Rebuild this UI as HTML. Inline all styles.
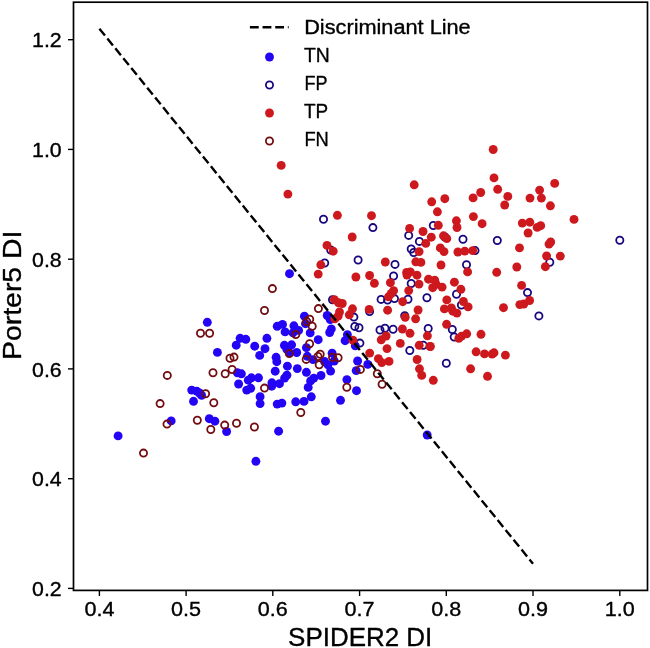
<!DOCTYPE html>
<html><head><meta charset="utf-8"><title>Scatter</title>
<style>
html,body{margin:0;padding:0;background:#fff;}
body{width:650px;height:648px;overflow:hidden;}
svg{display:block;will-change:transform;}
text{font-family:"Liberation Sans",sans-serif;fill:#000;stroke:#000;stroke-width:0.35px;stroke-linejoin:round;}
.tk{font-size:20px;}
.lg{font-size:20px;}
.ax{font-size:25px;}
</style></head><body>
<svg width="650" height="648" viewBox="0 0 650 648">
<rect x="0" y="0" width="650" height="648" fill="#ffffff"/>

<g id="tn">
<circle cx="118.1" cy="435.9" r="4.45" fill="#2404f5"/>
<circle cx="171.2" cy="420.9" r="4.45" fill="#2404f5"/>
<circle cx="207.3" cy="322.3" r="4.45" fill="#2404f5"/>
<circle cx="240.1" cy="338.3" r="4.45" fill="#2404f5"/>
<circle cx="245.8" cy="339.3" r="4.45" fill="#2404f5"/>
<circle cx="236.2" cy="345.2" r="4.45" fill="#2404f5"/>
<circle cx="254.7" cy="346.2" r="4.45" fill="#2404f5"/>
<circle cx="217.4" cy="352.4" r="4.45" fill="#2404f5"/>
<circle cx="259.7" cy="355.4" r="4.45" fill="#2404f5"/>
<circle cx="237.4" cy="372.8" r="4.45" fill="#2404f5"/>
<circle cx="241.4" cy="373.8" r="4.45" fill="#2404f5"/>
<circle cx="251.4" cy="377.8" r="4.45" fill="#2404f5"/>
<circle cx="248.3" cy="380.2" r="4.45" fill="#2404f5"/>
<circle cx="258.5" cy="377.8" r="4.45" fill="#2404f5"/>
<circle cx="238.6" cy="384.0" r="4.45" fill="#2404f5"/>
<circle cx="250.7" cy="388.3" r="4.45" fill="#2404f5"/>
<circle cx="246.7" cy="390.1" r="4.45" fill="#2404f5"/>
<circle cx="191.7" cy="390.1" r="4.45" fill="#2404f5"/>
<circle cx="196.7" cy="391.2" r="4.45" fill="#2404f5"/>
<circle cx="199.5" cy="393.0" r="4.45" fill="#2404f5"/>
<circle cx="201.6" cy="395.4" r="4.45" fill="#2404f5"/>
<circle cx="193.5" cy="401.3" r="4.45" fill="#2404f5"/>
<circle cx="209.3" cy="418.7" r="4.45" fill="#2404f5"/>
<circle cx="214.9" cy="421.2" r="4.45" fill="#2404f5"/>
<circle cx="226.6" cy="431.5" r="4.45" fill="#2404f5"/>
<circle cx="255.9" cy="461.3" r="4.45" fill="#2404f5"/>
<circle cx="289.5" cy="273.7" r="4.45" fill="#2404f5"/>
<circle cx="304.4" cy="316.2" r="4.45" fill="#2404f5"/>
<circle cx="305.5" cy="323.7" r="4.45" fill="#2404f5"/>
<circle cx="277.2" cy="326.3" r="4.45" fill="#2404f5"/>
<circle cx="282.5" cy="324.4" r="4.45" fill="#2404f5"/>
<circle cx="285.1" cy="331.9" r="4.45" fill="#2404f5"/>
<circle cx="293.9" cy="325.8" r="4.45" fill="#2404f5"/>
<circle cx="298.6" cy="330.4" r="4.45" fill="#2404f5"/>
<circle cx="293.0" cy="332.8" r="4.45" fill="#2404f5"/>
<circle cx="310.2" cy="332.9" r="4.45" fill="#2404f5"/>
<circle cx="266.9" cy="338.3" r="4.45" fill="#2404f5"/>
<circle cx="318.2" cy="339.7" r="4.45" fill="#2404f5"/>
<circle cx="265.0" cy="348.7" r="4.45" fill="#2404f5"/>
<circle cx="284.4" cy="345.3" r="4.45" fill="#2404f5"/>
<circle cx="291.6" cy="344.8" r="4.45" fill="#2404f5"/>
<circle cx="286.9" cy="349.4" r="4.45" fill="#2404f5"/>
<circle cx="289.5" cy="352.8" r="4.45" fill="#2404f5"/>
<circle cx="296.7" cy="352.5" r="4.45" fill="#2404f5"/>
<circle cx="306.4" cy="347.6" r="4.45" fill="#2404f5"/>
<circle cx="276.1" cy="357.3" r="4.45" fill="#2404f5"/>
<circle cx="276.8" cy="361.7" r="4.45" fill="#2404f5"/>
<circle cx="307.3" cy="356.3" r="4.45" fill="#2404f5"/>
<circle cx="313.0" cy="359.6" r="4.45" fill="#2404f5"/>
<circle cx="287.4" cy="366.2" r="4.45" fill="#2404f5"/>
<circle cx="297.3" cy="368.6" r="4.45" fill="#2404f5"/>
<circle cx="306.4" cy="372.3" r="4.45" fill="#2404f5"/>
<circle cx="275.2" cy="371.2" r="4.45" fill="#2404f5"/>
<circle cx="286.9" cy="375.2" r="4.45" fill="#2404f5"/>
<circle cx="284.6" cy="378.1" r="4.45" fill="#2404f5"/>
<circle cx="271.9" cy="382.8" r="4.45" fill="#2404f5"/>
<circle cx="279.5" cy="383.7" r="4.45" fill="#2404f5"/>
<circle cx="271.7" cy="386.2" r="4.45" fill="#2404f5"/>
<circle cx="313.8" cy="378.1" r="4.45" fill="#2404f5"/>
<circle cx="310.6" cy="380.9" r="4.45" fill="#2404f5"/>
<circle cx="308.2" cy="387.4" r="4.45" fill="#2404f5"/>
<circle cx="260.1" cy="396.7" r="4.45" fill="#2404f5"/>
<circle cx="260.1" cy="403.6" r="4.45" fill="#2404f5"/>
<circle cx="277.2" cy="404.1" r="4.45" fill="#2404f5"/>
<circle cx="281.9" cy="403.1" r="4.45" fill="#2404f5"/>
<circle cx="295.7" cy="401.8" r="4.45" fill="#2404f5"/>
<circle cx="304.0" cy="401.4" r="4.45" fill="#2404f5"/>
<circle cx="311.3" cy="396.8" r="4.45" fill="#2404f5"/>
<circle cx="278.6" cy="431.2" r="4.45" fill="#2404f5"/>
<circle cx="327.2" cy="315.5" r="4.45" fill="#2404f5"/>
<circle cx="330.2" cy="319.5" r="4.45" fill="#2404f5"/>
<circle cx="331.3" cy="328.9" r="4.45" fill="#2404f5"/>
<circle cx="329.7" cy="332.5" r="4.45" fill="#2404f5"/>
<circle cx="347.4" cy="334.7" r="4.45" fill="#2404f5"/>
<circle cx="345.1" cy="340.7" r="4.45" fill="#2404f5"/>
<circle cx="355.3" cy="345.8" r="4.45" fill="#2404f5"/>
<circle cx="332.1" cy="353.2" r="4.45" fill="#2404f5"/>
<circle cx="324.5" cy="361.5" r="4.45" fill="#2404f5"/>
<circle cx="334.2" cy="361.0" r="4.45" fill="#2404f5"/>
<circle cx="357.6" cy="361.0" r="4.45" fill="#2404f5"/>
<circle cx="328.0" cy="364.8" r="4.45" fill="#2404f5"/>
<circle cx="330.6" cy="371.1" r="4.45" fill="#2404f5"/>
<circle cx="321.0" cy="375.5" r="4.45" fill="#2404f5"/>
<circle cx="367.8" cy="364.4" r="4.45" fill="#2404f5"/>
<circle cx="356.2" cy="370.6" r="4.45" fill="#2404f5"/>
<circle cx="346.9" cy="379.6" r="4.45" fill="#2404f5"/>
<circle cx="356.5" cy="390.7" r="4.45" fill="#2404f5"/>
<circle cx="340.5" cy="400.3" r="4.45" fill="#2404f5"/>
<circle cx="325.5" cy="421.2" r="4.45" fill="#2404f5"/>
<circle cx="427.2" cy="435.0" r="4.45" fill="#2404f5"/>
</g><g id="fp">
<circle cx="323.5" cy="219.2" r="3.6" fill="#fff" fill-opacity="0" stroke="#17067f" stroke-width="1.8"/>
<circle cx="372.9" cy="227.6" r="3.6" fill="#fff" fill-opacity="0" stroke="#17067f" stroke-width="1.8"/>
<circle cx="330.7" cy="250.0" r="3.6" fill="#fff" fill-opacity="0" stroke="#17067f" stroke-width="1.8"/>
<circle cx="358.1" cy="260.0" r="3.6" fill="#fff" fill-opacity="0" stroke="#17067f" stroke-width="1.8"/>
<circle cx="324.7" cy="263.0" r="3.6" fill="#fff" fill-opacity="0" stroke="#17067f" stroke-width="1.8"/>
<circle cx="332.5" cy="299.8" r="3.6" fill="#fff" fill-opacity="0" stroke="#17067f" stroke-width="1.8"/>
<circle cx="369.6" cy="311.6" r="3.6" fill="#fff" fill-opacity="0" stroke="#17067f" stroke-width="1.8"/>
<circle cx="353.9" cy="317.1" r="3.6" fill="#fff" fill-opacity="0" stroke="#17067f" stroke-width="1.8"/>
<circle cx="354.8" cy="326.4" r="3.6" fill="#fff" fill-opacity="0" stroke="#17067f" stroke-width="1.8"/>
<circle cx="359.0" cy="327.8" r="3.6" fill="#fff" fill-opacity="0" stroke="#17067f" stroke-width="1.8"/>
<circle cx="359.9" cy="343.1" r="3.6" fill="#fff" fill-opacity="0" stroke="#17067f" stroke-width="1.8"/>
<circle cx="409.8" cy="350.5" r="3.6" fill="#fff" fill-opacity="0" stroke="#17067f" stroke-width="1.8"/>
<circle cx="423.2" cy="345.3" r="3.6" fill="#fff" fill-opacity="0" stroke="#17067f" stroke-width="1.8"/>
<circle cx="446.3" cy="363.3" r="3.6" fill="#fff" fill-opacity="0" stroke="#17067f" stroke-width="1.8"/>
<circle cx="380.0" cy="330.0" r="3.6" fill="#fff" fill-opacity="0" stroke="#17067f" stroke-width="1.8"/>
<circle cx="385.0" cy="328.3" r="3.6" fill="#fff" fill-opacity="0" stroke="#17067f" stroke-width="1.8"/>
<circle cx="393.1" cy="329.2" r="3.6" fill="#fff" fill-opacity="0" stroke="#17067f" stroke-width="1.8"/>
<circle cx="428.2" cy="328.5" r="3.6" fill="#fff" fill-opacity="0" stroke="#17067f" stroke-width="1.8"/>
<circle cx="393.6" cy="276.0" r="3.6" fill="#fff" fill-opacity="0" stroke="#17067f" stroke-width="1.8"/>
<circle cx="411.2" cy="283.5" r="3.6" fill="#fff" fill-opacity="0" stroke="#17067f" stroke-width="1.8"/>
<circle cx="381.1" cy="299.4" r="3.6" fill="#fff" fill-opacity="0" stroke="#17067f" stroke-width="1.8"/>
<circle cx="387.6" cy="300.0" r="3.6" fill="#fff" fill-opacity="0" stroke="#17067f" stroke-width="1.8"/>
<circle cx="394.5" cy="298.6" r="3.6" fill="#fff" fill-opacity="0" stroke="#17067f" stroke-width="1.8"/>
<circle cx="408.0" cy="299.3" r="3.6" fill="#fff" fill-opacity="0" stroke="#17067f" stroke-width="1.8"/>
<circle cx="426.9" cy="297.8" r="3.6" fill="#fff" fill-opacity="0" stroke="#17067f" stroke-width="1.8"/>
<circle cx="404.7" cy="315.7" r="3.6" fill="#fff" fill-opacity="0" stroke="#17067f" stroke-width="1.8"/>
<circle cx="408.7" cy="235.4" r="3.6" fill="#fff" fill-opacity="0" stroke="#17067f" stroke-width="1.8"/>
<circle cx="419.4" cy="241.4" r="3.6" fill="#fff" fill-opacity="0" stroke="#17067f" stroke-width="1.8"/>
<circle cx="411.2" cy="249.0" r="3.6" fill="#fff" fill-opacity="0" stroke="#17067f" stroke-width="1.8"/>
<circle cx="413.7" cy="252.5" r="3.6" fill="#fff" fill-opacity="0" stroke="#17067f" stroke-width="1.8"/>
<circle cx="395.0" cy="264.4" r="3.6" fill="#fff" fill-opacity="0" stroke="#17067f" stroke-width="1.8"/>
<circle cx="433.3" cy="225.5" r="3.6" fill="#fff" fill-opacity="0" stroke="#17067f" stroke-width="1.8"/>
<circle cx="444.9" cy="237.0" r="3.6" fill="#fff" fill-opacity="0" stroke="#17067f" stroke-width="1.8"/>
<circle cx="463.0" cy="239.3" r="3.6" fill="#fff" fill-opacity="0" stroke="#17067f" stroke-width="1.8"/>
<circle cx="475.0" cy="250.6" r="3.6" fill="#fff" fill-opacity="0" stroke="#17067f" stroke-width="1.8"/>
<circle cx="466.5" cy="264.8" r="3.6" fill="#fff" fill-opacity="0" stroke="#17067f" stroke-width="1.8"/>
<circle cx="456.5" cy="294.3" r="3.6" fill="#fff" fill-opacity="0" stroke="#17067f" stroke-width="1.8"/>
<circle cx="461.4" cy="305.0" r="3.6" fill="#fff" fill-opacity="0" stroke="#17067f" stroke-width="1.8"/>
<circle cx="452.3" cy="329.5" r="3.6" fill="#fff" fill-opacity="0" stroke="#17067f" stroke-width="1.8"/>
<circle cx="454.2" cy="337.0" r="3.6" fill="#fff" fill-opacity="0" stroke="#17067f" stroke-width="1.8"/>
<circle cx="497.3" cy="240.5" r="3.6" fill="#fff" fill-opacity="0" stroke="#17067f" stroke-width="1.8"/>
<circle cx="549.8" cy="262.2" r="3.6" fill="#fff" fill-opacity="0" stroke="#17067f" stroke-width="1.8"/>
<circle cx="527.5" cy="292.6" r="3.6" fill="#fff" fill-opacity="0" stroke="#17067f" stroke-width="1.8"/>
<circle cx="538.9" cy="315.9" r="3.6" fill="#fff" fill-opacity="0" stroke="#17067f" stroke-width="1.8"/>
<circle cx="619.8" cy="240.2" r="3.6" fill="#fff" fill-opacity="0" stroke="#17067f" stroke-width="1.8"/>
</g><g id="tp">
<circle cx="281.2" cy="165.4" r="4.45" fill="#cd191e"/>
<circle cx="287.9" cy="194.1" r="4.45" fill="#cd191e"/>
<circle cx="337.4" cy="215.3" r="4.45" fill="#cd191e"/>
<circle cx="371.5" cy="215.7" r="4.45" fill="#cd191e"/>
<circle cx="352.2" cy="237.0" r="4.45" fill="#cd191e"/>
<circle cx="327.0" cy="245.4" r="4.45" fill="#cd191e"/>
<circle cx="333.2" cy="251.2" r="4.45" fill="#cd191e"/>
<circle cx="320.8" cy="264.8" r="4.45" fill="#cd191e"/>
<circle cx="318.2" cy="274.1" r="4.45" fill="#cd191e"/>
<circle cx="355.9" cy="277.0" r="4.45" fill="#cd191e"/>
<circle cx="369.6" cy="275.5" r="4.45" fill="#cd191e"/>
<circle cx="374.4" cy="283.3" r="4.45" fill="#cd191e"/>
<circle cx="334.4" cy="299.7" r="4.45" fill="#cd191e"/>
<circle cx="338.6" cy="302.8" r="4.45" fill="#cd191e"/>
<circle cx="342.3" cy="303.5" r="4.45" fill="#cd191e"/>
<circle cx="352.5" cy="308.8" r="4.45" fill="#cd191e"/>
<circle cx="369.2" cy="309.4" r="4.45" fill="#cd191e"/>
<circle cx="339.5" cy="312.0" r="4.45" fill="#cd191e"/>
<circle cx="338.1" cy="316.2" r="4.45" fill="#cd191e"/>
<circle cx="334.8" cy="318.9" r="4.45" fill="#cd191e"/>
<circle cx="349.3" cy="314.8" r="4.45" fill="#cd191e"/>
<circle cx="353.0" cy="340.3" r="4.45" fill="#cd191e"/>
<circle cx="369.7" cy="353.1" r="4.45" fill="#cd191e"/>
<circle cx="433.3" cy="380.3" r="4.45" fill="#cd191e"/>
<circle cx="421.7" cy="375.4" r="4.45" fill="#cd191e"/>
<circle cx="419.5" cy="368.8" r="4.45" fill="#cd191e"/>
<circle cx="417.1" cy="359.5" r="4.45" fill="#cd191e"/>
<circle cx="387.0" cy="348.6" r="4.45" fill="#cd191e"/>
<circle cx="400.3" cy="343.4" r="4.45" fill="#cd191e"/>
<circle cx="419.2" cy="345.3" r="4.45" fill="#cd191e"/>
<circle cx="378.4" cy="358.6" r="4.45" fill="#cd191e"/>
<circle cx="381.8" cy="362.6" r="4.45" fill="#cd191e"/>
<circle cx="389.0" cy="361.4" r="4.45" fill="#cd191e"/>
<circle cx="381.2" cy="339.8" r="4.45" fill="#cd191e"/>
<circle cx="386.1" cy="336.0" r="4.45" fill="#cd191e"/>
<circle cx="427.4" cy="335.8" r="4.45" fill="#cd191e"/>
<circle cx="410.0" cy="333.3" r="4.45" fill="#cd191e"/>
<circle cx="402.4" cy="329.0" r="4.45" fill="#cd191e"/>
<circle cx="390.4" cy="282.7" r="4.45" fill="#cd191e"/>
<circle cx="419.0" cy="284.1" r="4.45" fill="#cd191e"/>
<circle cx="407.0" cy="275.0" r="4.45" fill="#cd191e"/>
<circle cx="417.0" cy="275.2" r="4.45" fill="#cd191e"/>
<circle cx="428.5" cy="279.2" r="4.45" fill="#cd191e"/>
<circle cx="432.7" cy="287.7" r="4.45" fill="#cd191e"/>
<circle cx="393.6" cy="290.7" r="4.45" fill="#cd191e"/>
<circle cx="391.3" cy="293.5" r="4.45" fill="#cd191e"/>
<circle cx="388.5" cy="296.8" r="4.45" fill="#cd191e"/>
<circle cx="408.7" cy="290.6" r="4.45" fill="#cd191e"/>
<circle cx="402.7" cy="301.7" r="4.45" fill="#cd191e"/>
<circle cx="387.6" cy="310.2" r="4.45" fill="#cd191e"/>
<circle cx="418.1" cy="310.0" r="4.45" fill="#cd191e"/>
<circle cx="405.2" cy="317.3" r="4.45" fill="#cd191e"/>
<circle cx="415.6" cy="318.8" r="4.45" fill="#cd191e"/>
<circle cx="409.6" cy="228.4" r="4.45" fill="#cd191e"/>
<circle cx="423.0" cy="231.5" r="4.45" fill="#cd191e"/>
<circle cx="425.8" cy="243.4" r="4.45" fill="#cd191e"/>
<circle cx="419.1" cy="251.6" r="4.45" fill="#cd191e"/>
<circle cx="385.3" cy="262.0" r="4.45" fill="#cd191e"/>
<circle cx="415.8" cy="261.8" r="4.45" fill="#cd191e"/>
<circle cx="420.9" cy="262.4" r="4.45" fill="#cd191e"/>
<circle cx="406.6" cy="272.4" r="4.45" fill="#cd191e"/>
<circle cx="410.3" cy="271.9" r="4.45" fill="#cd191e"/>
<circle cx="414.2" cy="184.8" r="4.45" fill="#cd191e"/>
<circle cx="431.7" cy="201.8" r="4.45" fill="#cd191e"/>
<circle cx="444.8" cy="198.7" r="4.45" fill="#cd191e"/>
<circle cx="437.4" cy="211.8" r="4.45" fill="#cd191e"/>
<circle cx="473.1" cy="197.9" r="4.45" fill="#cd191e"/>
<circle cx="480.7" cy="192.5" r="4.45" fill="#cd191e"/>
<circle cx="473.4" cy="216.6" r="4.45" fill="#cd191e"/>
<circle cx="482.1" cy="223.7" r="4.45" fill="#cd191e"/>
<circle cx="456.4" cy="220.8" r="4.45" fill="#cd191e"/>
<circle cx="457.0" cy="227.5" r="4.45" fill="#cd191e"/>
<circle cx="438.3" cy="225.3" r="4.45" fill="#cd191e"/>
<circle cx="431.3" cy="237.2" r="4.45" fill="#cd191e"/>
<circle cx="443.5" cy="235.8" r="4.45" fill="#cd191e"/>
<circle cx="446.8" cy="238.6" r="4.45" fill="#cd191e"/>
<circle cx="440.3" cy="247.9" r="4.45" fill="#cd191e"/>
<circle cx="444.0" cy="251.6" r="4.45" fill="#cd191e"/>
<circle cx="457.9" cy="252.0" r="4.45" fill="#cd191e"/>
<circle cx="464.8" cy="251.1" r="4.45" fill="#cd191e"/>
<circle cx="472.7" cy="250.6" r="4.45" fill="#cd191e"/>
<circle cx="441.0" cy="265.0" r="4.45" fill="#cd191e"/>
<circle cx="467.6" cy="271.9" r="4.45" fill="#cd191e"/>
<circle cx="434.7" cy="280.2" r="4.45" fill="#cd191e"/>
<circle cx="436.1" cy="284.4" r="4.45" fill="#cd191e"/>
<circle cx="442.1" cy="287.1" r="4.45" fill="#cd191e"/>
<circle cx="454.4" cy="282.2" r="4.45" fill="#cd191e"/>
<circle cx="460.9" cy="289.3" r="4.45" fill="#cd191e"/>
<circle cx="446.8" cy="299.9" r="4.45" fill="#cd191e"/>
<circle cx="463.4" cy="301.5" r="4.45" fill="#cd191e"/>
<circle cx="468.1" cy="306.9" r="4.45" fill="#cd191e"/>
<circle cx="444.4" cy="308.9" r="4.45" fill="#cd191e"/>
<circle cx="451.4" cy="308.0" r="4.45" fill="#cd191e"/>
<circle cx="452.8" cy="311.2" r="4.45" fill="#cd191e"/>
<circle cx="456.9" cy="313.1" r="4.45" fill="#cd191e"/>
<circle cx="446.6" cy="324.3" r="4.45" fill="#cd191e"/>
<circle cx="458.8" cy="338.4" r="4.45" fill="#cd191e"/>
<circle cx="461.6" cy="336.1" r="4.45" fill="#cd191e"/>
<circle cx="466.7" cy="333.8" r="4.45" fill="#cd191e"/>
<circle cx="481.0" cy="334.3" r="4.45" fill="#cd191e"/>
<circle cx="430.4" cy="346.5" r="4.45" fill="#cd191e"/>
<circle cx="476.1" cy="351.8" r="4.45" fill="#cd191e"/>
<circle cx="484.5" cy="353.9" r="4.45" fill="#cd191e"/>
<circle cx="470.6" cy="368.8" r="4.45" fill="#cd191e"/>
<circle cx="493.2" cy="149.5" r="4.45" fill="#cd191e"/>
<circle cx="494.0" cy="177.9" r="4.45" fill="#cd191e"/>
<circle cx="497.7" cy="189.3" r="4.45" fill="#cd191e"/>
<circle cx="507.8" cy="196.4" r="4.45" fill="#cd191e"/>
<circle cx="504.7" cy="205.0" r="4.45" fill="#cd191e"/>
<circle cx="530.0" cy="198.1" r="4.45" fill="#cd191e"/>
<circle cx="539.6" cy="190.1" r="4.45" fill="#cd191e"/>
<circle cx="541.4" cy="198.1" r="4.45" fill="#cd191e"/>
<circle cx="554.7" cy="183.4" r="4.45" fill="#cd191e"/>
<circle cx="550.4" cy="205.8" r="4.45" fill="#cd191e"/>
<circle cx="522.3" cy="223.1" r="4.45" fill="#cd191e"/>
<circle cx="529.8" cy="222.2" r="4.45" fill="#cd191e"/>
<circle cx="537.2" cy="227.4" r="4.45" fill="#cd191e"/>
<circle cx="540.7" cy="225.7" r="4.45" fill="#cd191e"/>
<circle cx="528.1" cy="233.0" r="4.45" fill="#cd191e"/>
<circle cx="519.5" cy="247.9" r="4.45" fill="#cd191e"/>
<circle cx="550.7" cy="242.0" r="4.45" fill="#cd191e"/>
<circle cx="549.0" cy="244.1" r="4.45" fill="#cd191e"/>
<circle cx="546.6" cy="256.0" r="4.45" fill="#cd191e"/>
<circle cx="560.3" cy="256.1" r="4.45" fill="#cd191e"/>
<circle cx="545.4" cy="266.7" r="4.45" fill="#cd191e"/>
<circle cx="516.8" cy="267.0" r="4.45" fill="#cd191e"/>
<circle cx="496.7" cy="272.3" r="4.45" fill="#cd191e"/>
<circle cx="521.6" cy="285.4" r="4.45" fill="#cd191e"/>
<circle cx="529.6" cy="300.5" r="4.45" fill="#cd191e"/>
<circle cx="523.8" cy="304.0" r="4.45" fill="#cd191e"/>
<circle cx="519.8" cy="304.6" r="4.45" fill="#cd191e"/>
<circle cx="503.5" cy="307.7" r="4.45" fill="#cd191e"/>
<circle cx="492.1" cy="354.1" r="4.45" fill="#cd191e"/>
<circle cx="494.0" cy="352.8" r="4.45" fill="#cd191e"/>
<circle cx="505.4" cy="355.1" r="4.45" fill="#cd191e"/>
<circle cx="487.5" cy="376.3" r="4.45" fill="#cd191e"/>
<circle cx="574.0" cy="219.4" r="4.45" fill="#cd191e"/>
<circle cx="429.9" cy="346.4" r="4.45" fill="#cd191e"/>
</g><g id="fn">
<circle cx="167.3" cy="375.4" r="3.6" fill="#fff" fill-opacity="0" stroke="#730c10" stroke-width="1.8"/>
<circle cx="160.1" cy="403.6" r="3.6" fill="#fff" fill-opacity="0" stroke="#730c10" stroke-width="1.8"/>
<circle cx="167.0" cy="424.1" r="3.6" fill="#fff" fill-opacity="0" stroke="#730c10" stroke-width="1.8"/>
<circle cx="143.5" cy="453.1" r="3.6" fill="#fff" fill-opacity="0" stroke="#730c10" stroke-width="1.8"/>
<circle cx="200.5" cy="333.2" r="3.6" fill="#fff" fill-opacity="0" stroke="#730c10" stroke-width="1.8"/>
<circle cx="209.6" cy="333.2" r="3.6" fill="#fff" fill-opacity="0" stroke="#730c10" stroke-width="1.8"/>
<circle cx="230.0" cy="358.3" r="3.6" fill="#fff" fill-opacity="0" stroke="#730c10" stroke-width="1.8"/>
<circle cx="234.0" cy="357.1" r="3.6" fill="#fff" fill-opacity="0" stroke="#730c10" stroke-width="1.8"/>
<circle cx="232.1" cy="369.5" r="3.6" fill="#fff" fill-opacity="0" stroke="#730c10" stroke-width="1.8"/>
<circle cx="213.0" cy="372.7" r="3.6" fill="#fff" fill-opacity="0" stroke="#730c10" stroke-width="1.8"/>
<circle cx="225.2" cy="373.8" r="3.6" fill="#fff" fill-opacity="0" stroke="#730c10" stroke-width="1.8"/>
<circle cx="205.6" cy="393.8" r="3.6" fill="#fff" fill-opacity="0" stroke="#730c10" stroke-width="1.8"/>
<circle cx="213.8" cy="402.8" r="3.6" fill="#fff" fill-opacity="0" stroke="#730c10" stroke-width="1.8"/>
<circle cx="197.3" cy="420.3" r="3.6" fill="#fff" fill-opacity="0" stroke="#730c10" stroke-width="1.8"/>
<circle cx="224.7" cy="425.1" r="3.6" fill="#fff" fill-opacity="0" stroke="#730c10" stroke-width="1.8"/>
<circle cx="236.5" cy="423.2" r="3.6" fill="#fff" fill-opacity="0" stroke="#730c10" stroke-width="1.8"/>
<circle cx="254.4" cy="427.0" r="3.6" fill="#fff" fill-opacity="0" stroke="#730c10" stroke-width="1.8"/>
<circle cx="210.8" cy="429.5" r="3.6" fill="#fff" fill-opacity="0" stroke="#730c10" stroke-width="1.8"/>
<circle cx="272.4" cy="288.6" r="3.6" fill="#fff" fill-opacity="0" stroke="#730c10" stroke-width="1.8"/>
<circle cx="264.5" cy="310.5" r="3.6" fill="#fff" fill-opacity="0" stroke="#730c10" stroke-width="1.8"/>
<circle cx="309.7" cy="319.2" r="3.6" fill="#fff" fill-opacity="0" stroke="#730c10" stroke-width="1.8"/>
<circle cx="306.8" cy="321.6" r="3.6" fill="#fff" fill-opacity="0" stroke="#730c10" stroke-width="1.8"/>
<circle cx="312.2" cy="326.2" r="3.6" fill="#fff" fill-opacity="0" stroke="#730c10" stroke-width="1.8"/>
<circle cx="295.8" cy="334.6" r="3.6" fill="#fff" fill-opacity="0" stroke="#730c10" stroke-width="1.8"/>
<circle cx="309.6" cy="343.7" r="3.6" fill="#fff" fill-opacity="0" stroke="#730c10" stroke-width="1.8"/>
<circle cx="289.3" cy="353.6" r="3.6" fill="#fff" fill-opacity="0" stroke="#730c10" stroke-width="1.8"/>
<circle cx="306.2" cy="359.4" r="3.6" fill="#fff" fill-opacity="0" stroke="#730c10" stroke-width="1.8"/>
<circle cx="264.5" cy="388.1" r="3.6" fill="#fff" fill-opacity="0" stroke="#730c10" stroke-width="1.8"/>
<circle cx="300.8" cy="412.5" r="3.6" fill="#fff" fill-opacity="0" stroke="#730c10" stroke-width="1.8"/>
<circle cx="318.4" cy="308.6" r="3.6" fill="#fff" fill-opacity="0" stroke="#730c10" stroke-width="1.8"/>
<circle cx="320.2" cy="354.3" r="3.6" fill="#fff" fill-opacity="0" stroke="#730c10" stroke-width="1.8"/>
<circle cx="318.0" cy="356.5" r="3.6" fill="#fff" fill-opacity="0" stroke="#730c10" stroke-width="1.8"/>
<circle cx="332.6" cy="357.2" r="3.6" fill="#fff" fill-opacity="0" stroke="#730c10" stroke-width="1.8"/>
<circle cx="338.1" cy="357.7" r="3.6" fill="#fff" fill-opacity="0" stroke="#730c10" stroke-width="1.8"/>
<circle cx="319.2" cy="364.8" r="3.6" fill="#fff" fill-opacity="0" stroke="#730c10" stroke-width="1.8"/>
<circle cx="360.4" cy="369.4" r="3.6" fill="#fff" fill-opacity="0" stroke="#730c10" stroke-width="1.8"/>
<circle cx="346.8" cy="387.3" r="3.6" fill="#fff" fill-opacity="0" stroke="#730c10" stroke-width="1.8"/>
<circle cx="377.3" cy="373.8" r="3.6" fill="#fff" fill-opacity="0" stroke="#730c10" stroke-width="1.8"/>
<circle cx="382.1" cy="384.2" r="3.6" fill="#fff" fill-opacity="0" stroke="#730c10" stroke-width="1.8"/>
</g>
<line x1="99.4" y1="28.7" x2="533.0" y2="563.7" stroke="#000" stroke-width="2.39" stroke-dasharray="8.83 3.82"/>
<rect x="73.5" y="2.2" width="574" height="588.2" fill="none" stroke="#000" stroke-width="1.7"/>
<line x1="99.4" y1="590.4" x2="99.4" y2="596" stroke="#000" stroke-width="1.4"/>
<text class="tk" x="99.4" y="616.3" text-anchor="middle" textLength="30" lengthAdjust="spacingAndGlyphs">0.4</text>
<line x1="186.1" y1="590.4" x2="186.1" y2="596" stroke="#000" stroke-width="1.4"/>
<text class="tk" x="186.1" y="616.3" text-anchor="middle" textLength="30" lengthAdjust="spacingAndGlyphs">0.5</text>
<line x1="272.8" y1="590.4" x2="272.8" y2="596" stroke="#000" stroke-width="1.4"/>
<text class="tk" x="272.8" y="616.3" text-anchor="middle" textLength="30" lengthAdjust="spacingAndGlyphs">0.6</text>
<line x1="359.6" y1="590.4" x2="359.6" y2="596" stroke="#000" stroke-width="1.4"/>
<text class="tk" x="359.6" y="616.3" text-anchor="middle" textLength="30" lengthAdjust="spacingAndGlyphs">0.7</text>
<line x1="446.3" y1="590.4" x2="446.3" y2="596" stroke="#000" stroke-width="1.4"/>
<text class="tk" x="446.3" y="616.3" text-anchor="middle" textLength="30" lengthAdjust="spacingAndGlyphs">0.8</text>
<line x1="533.0" y1="590.4" x2="533.0" y2="596" stroke="#000" stroke-width="1.4"/>
<text class="tk" x="533.0" y="616.3" text-anchor="middle" textLength="30" lengthAdjust="spacingAndGlyphs">0.9</text>
<line x1="619.8" y1="590.4" x2="619.8" y2="596" stroke="#000" stroke-width="1.4"/>
<text class="tk" x="619.8" y="616.3" text-anchor="middle" textLength="30" lengthAdjust="spacingAndGlyphs">1.0</text>
<line x1="68" y1="588.4" x2="73.5" y2="588.4" stroke="#000" stroke-width="1.4"/>
<text class="tk" x="61.7" y="596.1" text-anchor="end" textLength="29.6" lengthAdjust="spacingAndGlyphs">0.2</text>
<line x1="68" y1="478.7" x2="73.5" y2="478.7" stroke="#000" stroke-width="1.4"/>
<text class="tk" x="61.7" y="486.4" text-anchor="end" textLength="29.6" lengthAdjust="spacingAndGlyphs">0.4</text>
<line x1="68" y1="368.9" x2="73.5" y2="368.9" stroke="#000" stroke-width="1.4"/>
<text class="tk" x="61.7" y="376.6" text-anchor="end" textLength="29.6" lengthAdjust="spacingAndGlyphs">0.6</text>
<line x1="68" y1="259.2" x2="73.5" y2="259.2" stroke="#000" stroke-width="1.4"/>
<text class="tk" x="61.7" y="266.9" text-anchor="end" textLength="29.6" lengthAdjust="spacingAndGlyphs">0.8</text>
<line x1="68" y1="149.4" x2="73.5" y2="149.4" stroke="#000" stroke-width="1.4"/>
<text class="tk" x="61.7" y="157.1" text-anchor="end" textLength="29.6" lengthAdjust="spacingAndGlyphs">1.0</text>
<line x1="68" y1="39.7" x2="73.5" y2="39.7" stroke="#000" stroke-width="1.4"/>
<text class="tk" x="61.7" y="47.4" text-anchor="end" textLength="29.6" lengthAdjust="spacingAndGlyphs">1.2</text>
<text class="ax" x="360.2" y="645.7" text-anchor="middle" textLength="144.2" lengthAdjust="spacingAndGlyphs">SPIDER2 DI</text>
<text class="ax" transform="translate(20.9,295.3) rotate(-90)" text-anchor="middle" textLength="129.4" lengthAdjust="spacingAndGlyphs">Porter5 DI</text>
<line x1="249.9" y1="27.2" x2="288.6" y2="27.2" stroke="#000" stroke-width="2.39" stroke-dasharray="8.83 3.82"/>
<text class="lg" x="304.2" y="33.6" textLength="166.5" lengthAdjust="spacingAndGlyphs">Discriminant Line</text>
<circle cx="269.5" cy="57.0" r="4.45" fill="#2404f5"/>
<text class="lg" x="303.9" y="62.3" textLength="25.8" lengthAdjust="spacingAndGlyphs">TN</text>
<circle cx="269.5" cy="85.0" r="3.6" fill="#fff" fill-opacity="0" stroke="#17067f" stroke-width="1.8"/>
<text class="lg" x="304.4" y="90.3" textLength="23.0" lengthAdjust="spacingAndGlyphs">FP</text>
<circle cx="269.5" cy="113.0" r="4.45" fill="#cd191e"/>
<text class="lg" x="303.9" y="118.3" textLength="24.2" lengthAdjust="spacingAndGlyphs">TP</text>
<circle cx="269.5" cy="141.0" r="3.6" fill="#fff" fill-opacity="0" stroke="#730c10" stroke-width="1.8"/>
<text class="lg" x="304.4" y="146.3" textLength="24.4" lengthAdjust="spacingAndGlyphs">FN</text>
</svg></body></html>
